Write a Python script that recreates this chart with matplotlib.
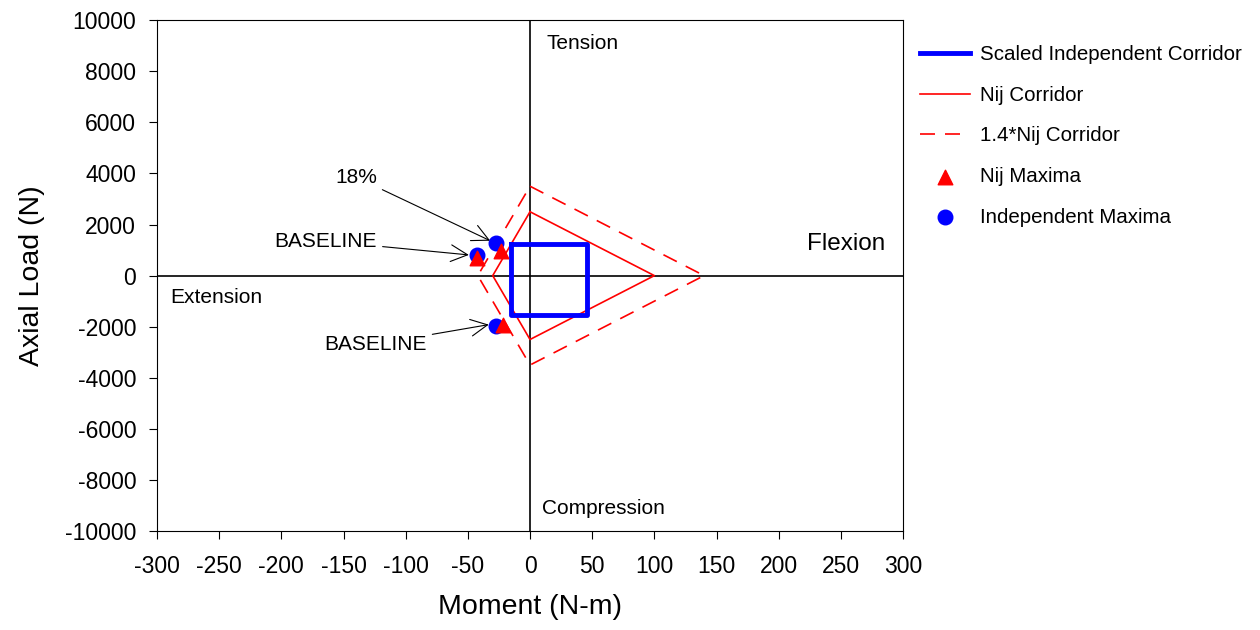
import matplotlib.pyplot as plt

plt.rcParams["font.family"] = ["Liberation Sans", "DejaVu Sans"]
plt.rcParams["axes.unicode_minus"] = False

# corridors (moment N-m, axial load N)
rect_m = [-15, 46, 46, -15, -15]
rect_f = [1250, 1250, -1550, -1550, 1250]
nij_m = [0, 100, 0, -30, 0]
nij_f = [2500, 0, -2500, 0, 2500]
nij14_m = [0, 140, 0, -42, 0]
nij14_f = [3500, 0, -3500, 0, 3500]

# maxima
nij_max_m = [-23, -43, -22]
nij_max_f = [970, 680, -1930]
ind_max_m = [-27, -43, -27]
ind_max_f = [1270, 800, -1980]

fig = plt.figure(figsize=(12.6, 6.3), dpi=100)
ax = fig.add_axes([0.1246, 0.157, 0.5921, 0.811])

ax.axhline(0, color="black", lw=1.2, zorder=1)
ax.axvline(0, color="black", lw=1.2, zorder=1)

ax.plot(rect_m, rect_f, color="blue", lw=3.5, label="Scaled Independent Corridor", zorder=3)
ax.plot(nij_m, nij_f, color="red", lw=1.2, label="Nij Corridor", zorder=2)
ax.plot(nij14_m, nij14_f, color="red", lw=1.2, dashes=(9, 6), label="1.4*Nij Corridor", zorder=2)
ax.scatter(ind_max_m, ind_max_f, s=110, color="blue", marker="o", label="Independent Maxima", zorder=4)
ax.scatter(nij_max_m, nij_max_f, s=110, color="red", marker="^", label="Nij Maxima", zorder=5)

ax.set_xlim(-300, 300)
ax.set_ylim(-10000, 10000)
ax.set_xticks(range(-300, 301, 50))
ax.set_yticks(range(-10000, 10001, 2000))
ax.tick_params(labelsize=16.5, direction="out", length=6, pad=9)
ax.tick_params(axis="x", pad=11)
ax.set_xlabel("Moment (N-m)", fontsize=20.5, labelpad=12)
ax.set_ylabel("Axial Load (N)", fontsize=20.5, labelpad=14)

ax.text(13, 9100, "Tension", fontsize=15, ha="left", va="center")
ax.text(10, -9100, "Compression", fontsize=15, ha="left", va="center")
ax.text(223, 1230, "Flexion", fontsize=17.5, ha="left", va="center")
ax.text(-289, -840, "Extension", fontsize=15, ha="left", va="center")

arrow = dict(arrowstyle="->", color="black", lw=0.8, mutation_scale=30)
ax.annotate("18%", xy=(ind_max_m[0] - 3, ind_max_f[0] + 50), xytext=(-123, 3850),
            fontsize=15, ha="right", va="center", arrowprops=arrow)
ax.annotate("BASELINE", xy=(ind_max_m[1] - 4, ind_max_f[1]), xytext=(-123, 1350),
            fontsize=15, ha="right", va="center", arrowprops=arrow)
ax.annotate("BASELINE", xy=(ind_max_m[2] - 4, ind_max_f[2] + 80), xytext=(-83, -2680),
            fontsize=15, ha="right", va="center", arrowprops=arrow)

h, l = ax.get_legend_handles_labels()
order = [0, 1, 2, 4, 3]
ax.legend([h[i] for i in order], [l[i] for i in order], loc="upper left",
          bbox_to_anchor=(1.012, 0.967), frameon=False, fontsize=14.8,
          labelspacing=1.05, handlelength=2.4, handletextpad=0.5, borderaxespad=0)

fig.savefig("out.png", dpi=100)
